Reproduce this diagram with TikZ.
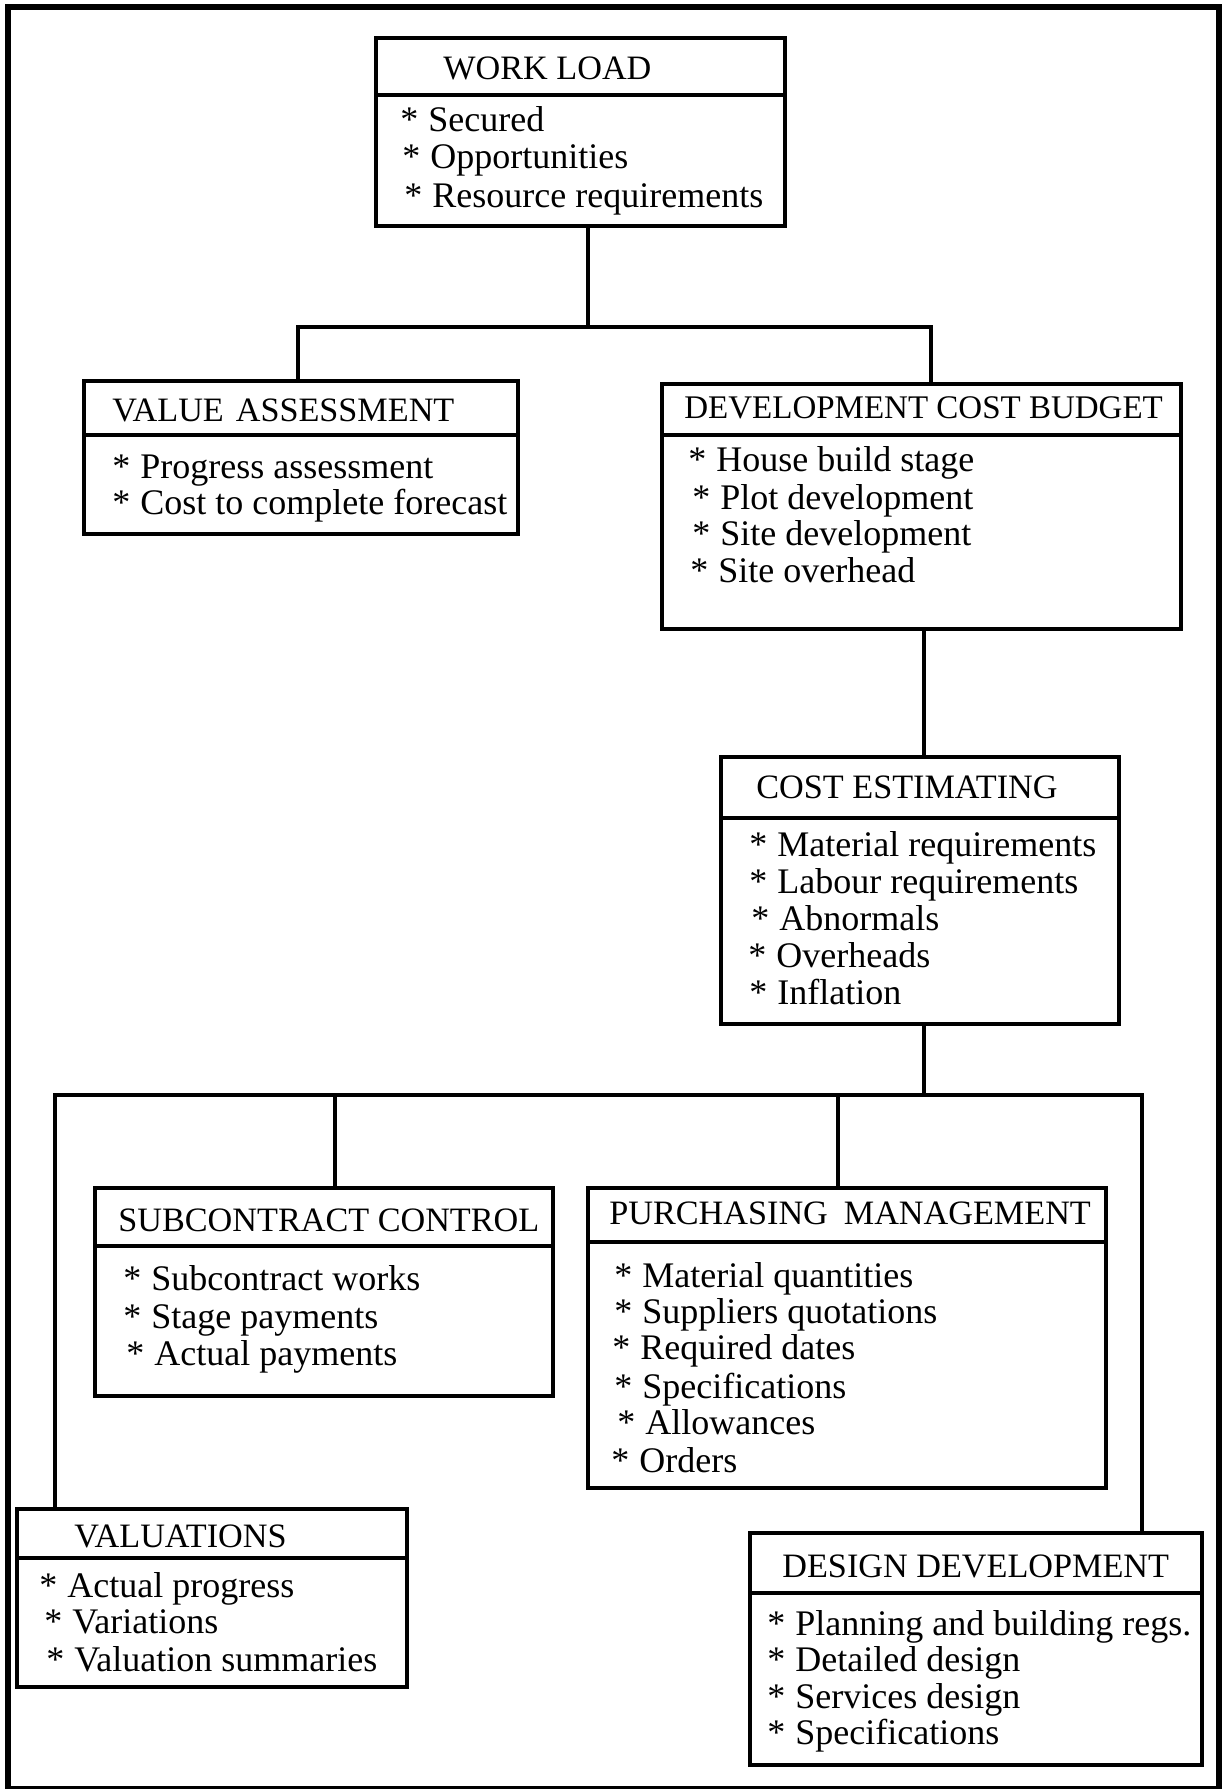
\documentclass[tikz,border=0pt]{standalone}
\usepackage{fontspec}
\setmainfont{Liberation Serif}
\usetikzlibrary{fit}
\newcommand\entryline[4]{\node[entry] (#1) at (#2,#3) {\makebox[14pt][l]{*}#4};}
\begin{document}
\begin{tikzpicture}[x=0.5pt,y=-0.5pt,
  frame/.style={line width=2.6pt},
  panel/.style={draw, line width=1.9pt, inner sep=0pt},
  divider/.style={line width=1.9pt},
  link/.style={line width=1.6pt},
  heading/.style={anchor=base west, inner sep=0pt, font=\fontsize{17.1}{20}\selectfont},
  entry/.style={anchor=base west, inner sep=0pt, font=\fontsize{18}{20}\selectfont}]
\useasboundingbox (0,0) rectangle (1226,1789);
\draw[frame] (8,7) rectangle (1219,1789);

% ---- boxes ----
\node[panel, fit={(376,38) (785,226)}] (wl) {};
\draw[divider] (wl.west |- 0,95) -- (wl.east |- 0,95);
\node[heading] (wlh) at (443,79) {WORK LOAD};
\entryline{wl1}{400}{131}{Secured}
\entryline{wl2}{402}{168}{Opportunities}
\entryline{wl3}{404}{207}{Resource requirements}

\node[panel, fit={(84,381) (518,534)}] (va) {};
\draw[divider] (va.west |- 0,435) -- (va.east |- 0,435);
\node[heading] (vah) at (112,421) {VALUE\hspace{6pt}ASSESSMENT};
\entryline{va1}{112}{478}{Progress assessment}
\entryline{va2}{112}{514}{Cost to complete forecast}

\node[panel, fit={(662,384) (1181,629)}] (dcb) {};
\draw[divider] (dcb.west |- 0,435) -- (dcb.east |- 0,435);
\node[heading, font=\fontsize{16.5}{20}\selectfont] (dcbh) at (684,418) {DEVELOPMENT COST BUDGET};
\entryline{dcb1}{688}{471}{House build stage}
\entryline{dcb2}{692}{509}{Plot development}
\entryline{dcb3}{692}{545}{Site development}
\entryline{dcb4}{690}{582}{Site overhead}

\node[panel, fit={(721,757) (1119,1024)}] (ce) {};
\draw[divider] (ce.west |- 0,818) -- (ce.east |- 0,818);
\node[heading] (ceh) at (756,798) {COST ESTIMATING};
\entryline{ce1}{749}{856}{Material requirements}
\entryline{ce2}{749}{893}{Labour requirements}
\entryline{ce3}{751}{930}{Abnormals}
\entryline{ce4}{748}{967}{Overheads}
\entryline{ce5}{749}{1004}{Inflation}

\node[panel, fit={(95,1188) (553,1396)}] (sc) {};
\draw[divider] (sc.west |- 0,1246) -- (sc.east |- 0,1246);
\node[heading] (sch) at (118,1231) {SUBCONTRACT CONTROL};
\entryline{sc1}{123}{1290}{Subcontract works}
\entryline{sc2}{123}{1328}{Stage payments}
\entryline{sc3}{126}{1365}{Actual payments}

\node[panel, fit={(588,1188) (1106,1488)}] (pm) {};
\draw[divider] (pm.west |- 0,1242) -- (pm.east |- 0,1242);
\node[heading] (pmh) at (609,1224) {PURCHASING\hspace{8pt}MANAGEMENT};
\entryline{pm1}{614}{1287}{Material quantities}
\entryline{pm2}{614}{1323}{Suppliers quotations}
\entryline{pm3}{612}{1359}{Required dates}
\entryline{pm4}{614}{1398}{Specifications}
\entryline{pm5}{617}{1434}{Allowances}
\entryline{pm6}{611}{1472}{Orders}

\node[panel, fit={(17,1509) (407,1687)}] (val) {};
\draw[divider] (val.west |- 0,1558) -- (val.east |- 0,1558);
\node[heading] (valh) at (74,1547) {VALUATIONS};
\entryline{val1}{39}{1597}{Actual progress}
\entryline{val2}{44}{1633}{Variations}
\entryline{val3}{46}{1671}{Valuation summaries}

\node[panel, fit={(750,1533) (1202,1765)}] (dd) {};
\draw[divider] (dd.west |- 0,1593) -- (dd.east |- 0,1593);
\node[heading] (ddh) at (782,1577) {DESIGN DEVELOPMENT};
\entryline{dd1}{767}{1635}{Planning and building regs.}
\entryline{dd2}{767}{1671}{Detailed design}
\entryline{dd3}{767}{1708}{Services design}
\entryline{dd4}{767}{1744}{Specifications}

% ---- connectors ----
\coordinate (j1) at (588,327);
\coordinate (j1l) at (298,327);
\coordinate (j1r) at (931,327);
\draw[link] (wl.south -| j1) -- (j1);
\draw[link] (va.north -| j1l) -- (j1l) -- (j1r) -- (dcb.north -| j1r);

\coordinate (j2) at (924,700);
\draw[link] (dcb.south -| j2) -- (ce.north -| j2);

\coordinate (j3) at (924,1095);
\coordinate (j3l) at (55,1095);
\coordinate (j3r) at (1142,1095);
\coordinate (j3a) at (335,1095);
\coordinate (j3b) at (838,1095);
\draw[link] (ce.south -| j3) -- (j3);
\draw[link] (val.north -| j3l) -- (j3l) -- (j3r) -- (dd.north -| j3r);
\draw[link] (sc.north -| j3a) -- (j3a);
\draw[link] (pm.north -| j3b) -- (j3b);
\end{tikzpicture}
\end{document}
